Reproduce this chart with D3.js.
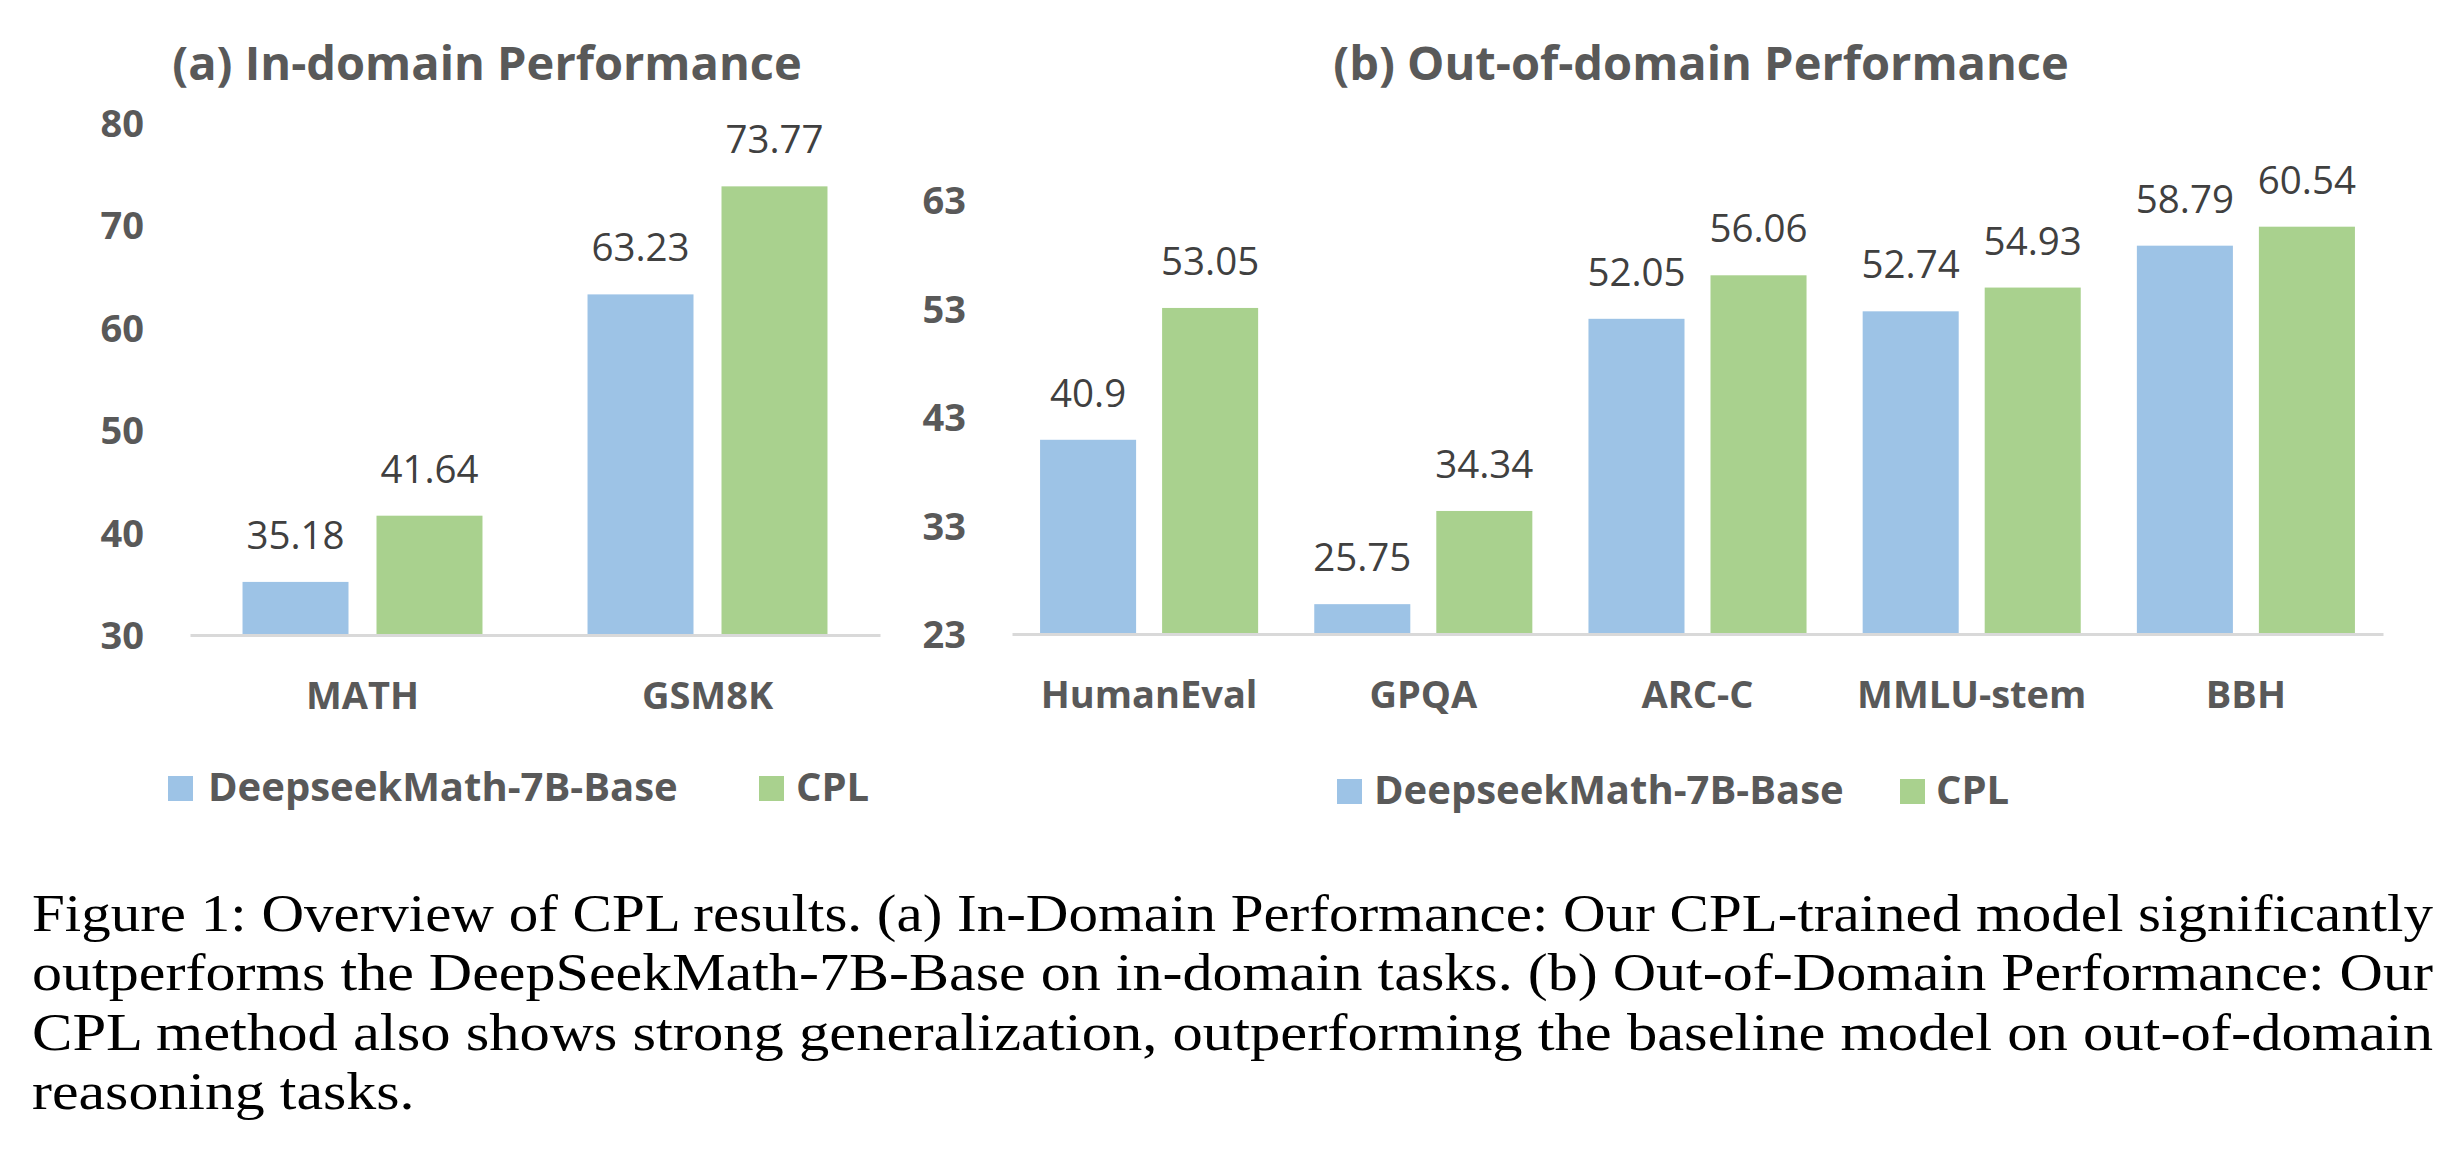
<!DOCTYPE html>
<html>
<head>
<meta charset="utf-8">
<script src="https://cdn.jsdelivr.net/npm/d3@7"></script>
<style>
  html, body { margin: 0; padding: 0; background: #fff; }
  svg { display: block; }
</style>
</head>
<body>
<svg id="chart" width="2464" height="1154"></svg>
<script>
// ---------------- data ----------------
const seriesNames = ["DeepseekMath-7B-Base", "CPL"];
const seriesColors = ["#9DC3E6", "#A9D18E"];

const inDomainCategories = ["MATH", "GSM8K"];
const inDomainBase = [35.18, 63.23];
const inDomainCPL = [41.64, 73.77];
const inDomainTicks = [30, 40, 50, 60, 70, 80];

const outDomainCategories = ["HumanEval", "GPQA", "ARC-C", "MMLU-stem", "BBH"];
const outDomainBase = [40.9, 25.75, 52.05, 52.74, 58.79];
const outDomainCPL = [53.05, 34.34, 56.06, 54.93, 60.54];
const outDomainTicks = [23, 33, 43, 53, 63];

const titles = ["(a) In-domain Performance", "(b) Out-of-domain Performance"];

const captionLines = [
  "Figure 1: Overview of CPL results. (a) In-Domain Performance: Our CPL-trained model significantly",
  "outperforms the DeepSeekMath-7B-Base on in-domain tasks. (b) Out-of-Domain Performance: Our",
  "CPL method also shows strong generalization, outperforming the baseline model on out-of-domain",
  "reasoning tasks."
];

// ---------------- drawing ----------------
const svg = d3.select("#chart");
const FONT = "'Open Sans', 'Noto Sans', sans-serif";
const GRAY = "#595959";
const DARK = "#404040";

function panel(cfg) {
  const cats = cfg.categories;
  const rows = cats.map((c, i) => ({ cat: c, vals: [cfg.base[i], cfg.cpl[i]] }));

  const x0 = d3.scaleBand().domain(cats).range([cfg.x0, cfg.x1]).padding(0);
  const x1 = d3.scaleBand().domain([0, 1]).range([0, x0.bandwidth()])
    .paddingInner(cfg.pIn).paddingOuter(cfg.pOut);
  const y = d3.scaleLinear().domain([cfg.ticks[0], cfg.ticks[cfg.ticks.length - 1]])
    .range([cfg.yBottom, cfg.yTop]);

  const g = svg.append("g");

  // title
  g.append("text")
    .attr("x", cfg.titleX).attr("y", 80)
    .attr("text-anchor", "middle")
    .attr("font-family", FONT).attr("font-weight", 700)
    .attr("font-size", cfg.titleSize).attr("fill", GRAY)
    .text(cfg.title);

  // y axis (labels only)
  const ya = g.append("g").attr("transform", `translate(${cfg.x0},0)`)
    .call(d3.axisLeft(y).tickValues(cfg.ticks).tickSize(0).tickPadding(46));
  ya.select(".domain").remove();
  ya.selectAll("text")
    .attr("font-family", FONT).attr("font-weight", 700)
    .attr("font-size", 38).attr("fill", GRAY).attr("dy", "0.36em");

  // bars
  const grp = g.selectAll(".grp").data(rows).join("g")
    .attr("transform", d => `translate(${x0(d.cat)},0)`);
  grp.selectAll("rect").data(d => d.vals.map((v, k) => ({ v, k }))).join("rect")
    .attr("x", d => x1(d.k))
    .attr("width", x1.bandwidth())
    .attr("y", d => y(d.v))
    .attr("height", d => y(cfg.ticks[0]) - y(d.v))
    .attr("fill", d => seriesColors[d.k]);

  // value labels
  grp.selectAll("text.val").data(d => d.vals.map((v, k) => ({ v, k }))).join("text")
    .attr("class", "val")
    .attr("x", d => x1(d.k) + x1.bandwidth() / 2)
    .attr("y", d => y(d.v) - 33)
    .attr("text-anchor", "middle")
    .attr("font-family", FONT).attr("font-size", 38.5).attr("fill", DARK)
    .text(d => String(d.v));

  // x axis
  const xa = g.append("g").attr("transform", `translate(0,${cfg.yBottom})`)
    .call(d3.axisBottom(x0).tickSize(0).tickSizeOuter(0).tickPadding(47));
  xa.select(".domain").attr("stroke", "#D9D9D9").attr("stroke-width", 3);
  xa.selectAll("text")
    .attr("font-family", FONT).attr("font-weight", 700)
    .attr("font-size", 38).attr("fill", GRAY);

  // legend
  const lg = g.append("g");
  cfg.legend.forEach((L, k) => {
    lg.append("rect").attr("x", L.sx).attr("y", cfg.legY).attr("width", 25).attr("height", 25)
      .attr("fill", seriesColors[k]);
    lg.append("text").attr("x", L.tx).attr("y", cfg.legY + 25)
      .attr("font-family", FONT).attr("font-weight", 700)
      .attr("font-size", 40).attr("fill", GRAY)
      .text(seriesNames[k]);
  });
}

panel({
  title: titles[0], titleX: 487, titleSize: 47,
  categories: inDomainCategories, base: inDomainBase, cpl: inDomainCPL, ticks: inDomainTicks,
  x0: 190, x1: 880, yBottom: 635, yTop: 122.5, pIn: 0.209, pOut: 0.392,
  legY: 776, legend: [{ sx: 168, tx: 208 }, { sx: 759, tx: 796 }]
});

panel({
  title: titles[1], titleX: 1701, titleSize: 47,
  categories: outDomainCategories, base: outDomainBase, cpl: outDomainCPL, ticks: outDomainTicks,
  x0: 1012, x1: 2383, yBottom: 634, yTop: 200, pIn: 0.213, pOut: 0.23,
  legY: 779, legend: [{ sx: 1337, tx: 1374 }, { sx: 1900, tx: 1936 }]
});

// caption (justified; glyphs widened to approximate Computer Modern proportions)
const cap = svg.append("g");
const capNodes = captionLines.map((line, i) =>
  cap.append("text")
    .attr("x", 32).attr("y", 931 + i * 59.3)
    .attr("font-family", "'Liberation Serif', 'DejaVu Serif', serif")
    .attr("font-size", 53).attr("fill", "#000")
    .text(line)
);
const CAP_W = 2401;
const factors = [];
capNodes.forEach((t, i) => {
  if (i < capNodes.length - 1) {
    const nat = t.node().getComputedTextLength();
    factors.push(CAP_W / nat);
    t.attr("textLength", CAP_W).attr("lengthAdjust", "spacingAndGlyphs");
  }
});
const meanF = d3.mean(factors);
const lastT = capNodes[capNodes.length - 1];
lastT.attr("textLength", lastT.node().getComputedTextLength() * meanF)
  .attr("lengthAdjust", "spacingAndGlyphs");
</script>
</body>
</html>
